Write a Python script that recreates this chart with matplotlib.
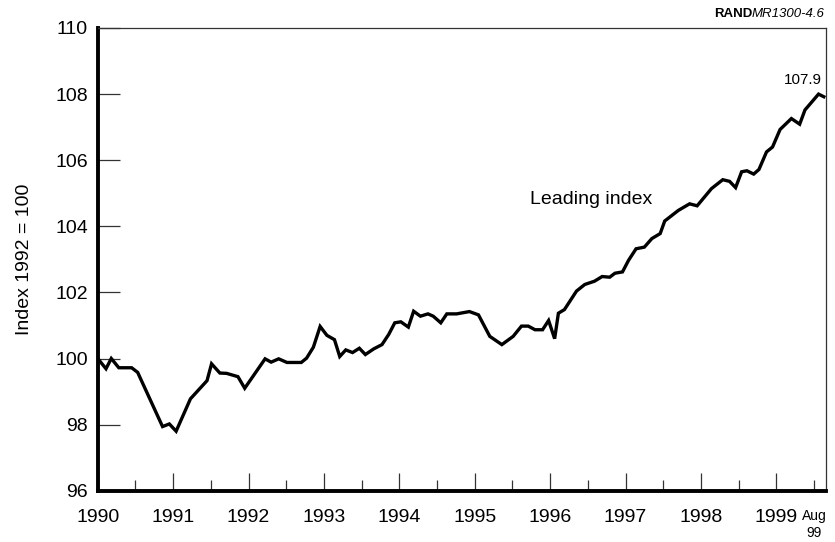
import numpy as np
import matplotlib
matplotlib.use("Agg")
import matplotlib.pyplot as plt

# ==========================================================
# DATA
# ==========================================================
years = [
    1990.00, 1990.11, 1990.18, 1990.28, 1990.45, 1990.53, 1990.86, 1990.95,
    1991.04, 1991.23, 1991.45, 1991.51, 1991.62, 1991.71, 1991.86, 1991.95,
    1992.22, 1992.30, 1992.40, 1992.51, 1992.70, 1992.77, 1992.86, 1992.95,
    1993.04, 1993.14, 1993.21, 1993.29, 1993.38, 1993.47, 1993.55, 1993.66,
    1993.77, 1993.86, 1993.94, 1994.02, 1994.12, 1994.19, 1994.28, 1994.38,
    1994.45, 1994.55, 1994.63, 1994.76, 1994.93, 1995.05, 1995.20, 1995.36,
    1995.51, 1995.62, 1995.71, 1995.80, 1995.90, 1995.98, 1996.06, 1996.11,
    1996.19, 1996.35, 1996.46, 1996.59, 1996.69, 1996.79, 1996.86, 1996.96,
    1997.04, 1997.14, 1997.25, 1997.35, 1997.46, 1997.52, 1997.70, 1997.85,
    1997.95, 1998.14, 1998.29, 1998.38, 1998.46, 1998.54, 1998.61, 1998.70,
    1998.77, 1998.87, 1998.95, 1999.05, 1999.20, 1999.31, 1999.38, 1999.56,
    1999.63,
]
leading_index = [
    100.00, 99.69, 100.00, 99.72, 99.72, 99.58, 97.94, 98.02,
    97.80, 98.78, 99.33, 99.84, 99.56, 99.55, 99.45, 99.10,
    99.99, 99.89, 99.99, 99.88, 99.88, 100.01, 100.34, 100.97,
    100.70, 100.57, 100.06, 100.26, 100.18, 100.31, 100.12, 100.29,
    100.42, 100.73, 101.08, 101.11, 100.95, 101.43, 101.28, 101.35,
    101.28, 101.08, 101.35, 101.35, 101.42, 101.32, 100.67, 100.42,
    100.67, 100.98, 100.98, 100.87, 100.87, 101.15, 100.60, 101.37,
    101.48, 102.04, 102.24, 102.34, 102.48, 102.46, 102.58, 102.62,
    102.97, 103.32, 103.37, 103.63, 103.78, 104.16, 104.48, 104.68,
    104.62, 105.14, 105.41, 105.36, 105.17, 105.65, 105.68, 105.58,
    105.72, 106.25, 106.40, 106.93, 107.26, 107.09, 107.52, 108.00,
    107.92,
]
year_ticks = list(range(1990, 2000))
year_labels = [str(y) for y in year_ticks]
half_ticks = [y + 0.5 for y in year_ticks]
half_labels = [""] * 9 + ["Aug\n99"]
y_ticks = [96, 98, 100, 102, 104, 106, 108, 110]
last_label = "107.9"

# ==========================================================
# PLOT
# ==========================================================
plt.rcParams["font.family"] = ["Liberation Sans", "DejaVu Sans"]

fig = plt.figure(figsize=(8.35, 5.42), dpi=100)
ax = fig.add_axes([97.7 / 835, 1 - 490.7 / 542, (825.7 - 97.7) / 835, (490.7 - 28) / 542])

ax.plot(years, leading_index, color="black", lw=2.4, solid_joinstyle="miter")

ax.set_xlim(1990, 1999.655)
ax.set_ylim(96, 110)

ax.set_xticks(year_ticks)
ax.set_xticklabels(year_labels)
ax.set_xticks(half_ticks, minor=True)
ax.set_xticklabels(half_labels, minor=True)
ax.set_yticks(y_ticks)

ax.tick_params(axis="x", which="major", direction="in", length=13, width=0.9,
               color="#333333", labelsize=14, pad=13.5)
ax.tick_params(axis="x", which="minor", direction="in", length=8, width=0.9,
               color="#333333", labelsize=10, pad=13.5)
ax.tick_params(axis="y", which="major", direction="in", length=16, width=0.9,
               color="#333333", labelsize=14, pad=7)

for side in ["left", "bottom"]:
    ax.spines[side].set_linewidth(2.8)
for side in ["top", "right"]:
    ax.spines[side].set_linewidth(0.9)
    ax.spines[side].set_color("#333333")

ax.set_ylabel("Index 1992 = 100", fontsize=14, labelpad=16)

ax.text(1995.73, 104.82, "Leading index", fontsize=14, va="center", ha="left")
ax.text(1999.61, 108.42, last_label, fontsize=11, ha="right", va="center")

fig.text(752 / 835, 1 - 14 / 542, "RAND", fontsize=9.5, fontweight="bold",
         ha="right", va="center")
fig.text(752 / 835, 1 - 14 / 542, "MR1300-4.6", fontsize=9.5, style="italic",
         ha="left", va="center")

fig.savefig("out.png", dpi=100)
